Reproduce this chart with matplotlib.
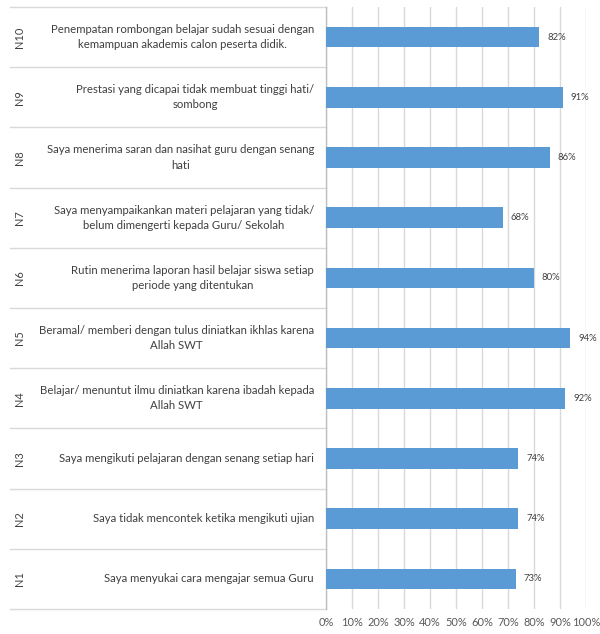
import matplotlib
matplotlib.use("Agg")
import matplotlib.pyplot as plt
import matplotlib.transforms as mtransforms
from matplotlib.ticker import FuncFormatter, MultipleLocator

codes = ["N1", "N2", "N3", "N4", "N5", "N6", "N7", "N8", "N9", "N10"]
statements = [
    "Saya menyukai cara mengajar semua Guru",
    "Saya tidak mencontek ketika mengikuti ujian",
    "Saya mengikuti pelajaran dengan senang setiap hari",
    "Belajar/ menuntut ilmu diniatkan karena ibadah kepada\nAllah SWT",
    "Beramal/ memberi dengan tulus diniatkan ikhlas karena\nAllah SWT",
    "Rutin menerima laporan hasil belajar siswa setiap\nperiode yang ditentukan",
    "Saya menyampaikankan materi pelajaran yang tidak/\nbelum dimengerti kepada Guru/ Sekolah",
    "Saya menerima saran dan nasihat guru dengan senang\nhati",
    "Prestasi yang dicapai tidak membuat tinggi hati/\nsombong",
    "Penempatan rombongan belajar sudah sesuai dengan\nkemampuan akademis calon peserta didik.",
]
values = [0.73, 0.74, 0.74, 0.92, 0.94, 0.80, 0.68, 0.86, 0.91, 0.82]

plt.rcParams['font.family'] = ['Lato', 'DejaVu Sans']

W, H = 600, 634
fig = plt.figure(figsize=(W / 100, H / 100), dpi=100)
x0, x1, y0, y1 = 326, 586, 7, 609
ax = fig.add_axes([x0 / W, 1 - y1 / H, (x1 - x0) / W, (y1 - y0) / H])

bar_color = "#5B9BD5"
grid_color = "#D9D9D9"
text_color = "#404040"

n = len(values)
ypos = list(range(n))
ax.barh(ypos, values, height=0.34, color=bar_color, zorder=3)
ax.set_xlim(0, 1.0)
ax.set_ylim(-0.5, n - 0.5)
ax.xaxis.set_major_locator(MultipleLocator(0.1))
ax.xaxis.set_major_formatter(FuncFormatter(lambda v, p: f"{round(v * 100):d}%"))
ax.grid(axis="x", color=grid_color, linewidth=1, zorder=0)
ax.set_axisbelow(True)
for s in ["top", "right", "bottom"]:
    ax.spines[s].set_visible(False)
ax.spines["left"].set_color("#BFBFBF")
ax.spines["left"].set_linewidth(1)
ax.tick_params(axis="x", length=0, labelsize=7.9, labelcolor="#595959", pad=6)
ax.tick_params(axis="y", length=0, labelleft=False)

for y, v in zip(ypos, values):
    ax.text(v + 0.03, y, f"{round(v * 100):d}%", va="center", ha="left",
            fontsize=6.8, color=text_color)

trans = mtransforms.blended_transform_factory(ax.transAxes, ax.transData)
left_edge = (10 - x0) / (x1 - x0)
code_x = (20 - x0) / (x1 - x0)
stmt_x = (314 - x0) / (x1 - x0)
for k in range(n + 1):
    ax.plot([left_edge, 0], [k - 0.5, k - 0.5], transform=trans, color=grid_color,
            linewidth=1, clip_on=False)
for y, c, s in zip(ypos, codes, statements):
    ax.text(code_x, y, c, transform=trans, rotation=90, ha="center", va="center",
            fontsize=7.9, color=text_color)
    ax.text(stmt_x, y, s, transform=trans, ha="right", va="center", multialignment="center",
            fontsize=8.2, color=text_color, linespacing=1.45)

fig.savefig("out.png", dpi=100)
